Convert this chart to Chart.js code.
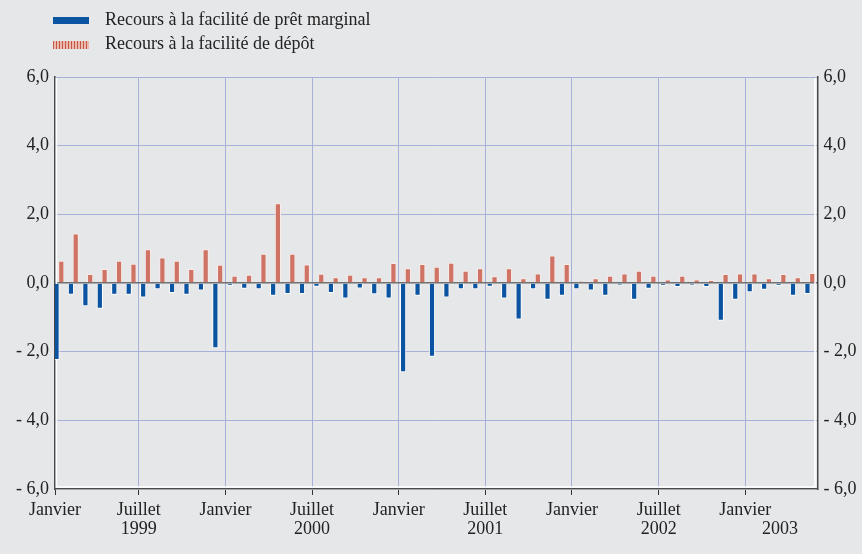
<!DOCTYPE html>
<html>
<head>
<meta charset="utf-8">
<script src="https://cdn.jsdelivr.net/npm/chart.js@4.4.1/dist/chart.umd.min.js"></script>
<style>
  body { margin: 0; background: #e6e7e9; }
  #cadre { position: relative; width: 862px; height: 554px; }
  .legende { position: absolute; left: 53px; font-family: "Liberation Serif", serif; font-size: 18px; color: #222; line-height: 20px; }
  .legende span { display: inline-block; width: 36px; vertical-align: middle; margin-right: 16px; }
</style>
</head>
<body>
<div id="cadre">
  <canvas id="graphe"></canvas>
  <div class="legende" style="top:9px"><span style="height:7px;background:#0b54a1"></span>Recours à la facilité de prêt marginal</div>
  <div class="legende" style="top:33px"><span style="height:8px;background:repeating-linear-gradient(90deg,#c4594a 0 1.5px,#ebb9ac 1.5px 3px)"></span>Recours à la facilité de dépôt</div>
</div>
<script>
// periodes mensuelles, janvier 1999 -> mai 2003 (milliards d'euros, moyennes)
const depot = [0.65, 1.44, 0.26, 0.41, 0.65, 0.56, 0.98, 0.74, 0.65, 0.41, 0.98, 0.53,
  0.21, 0.24, 0.85, 2.32, 0.85, 0.54, 0.27, 0.17, 0.24, 0.17, 0.17, 0.58,
  0.43, 0.55, 0.47, 0.59, 0.36, 0.43, 0.20, 0.43, 0.14, 0.28, 0.80, 0.55,
  0.05, 0.14, 0.21, 0.28, 0.36, 0.21, 0.10, 0.21, 0.10, 0.09, 0.26, 0.28,
  0.28, 0.14, 0.26, 0.17, 0.29];
const pretMarginal = [-2.24, -0.34, -0.68, -0.75, -0.34, -0.34, -0.42, -0.18, -0.29, -0.34, -0.22, -1.90,
  -0.08, -0.17, -0.18, -0.37, -0.32, -0.32, -0.11, -0.29, -0.45, -0.16, -0.33, -0.45,
  -2.60, -0.37, -2.15, -0.42, -0.18, -0.18, -0.11, -0.45, -1.06, -0.18, -0.49, -0.37,
  -0.18, -0.22, -0.37, -0.07, -0.49, -0.17, -0.08, -0.12, -0.07, -0.12, -1.10, -0.49,
  -0.27, -0.20, -0.08, -0.37, -0.32];

// graduations de l'axe des temps (en mois depuis janvier 1999)
const graduations = [0.2, 6, 12, 18, 24, 30, 36, 42, 48, 50.4];
const etiquettesMois = ['Janvier', 'Juillet', 'Janvier', 'Juillet', 'Janvier', 'Juillet', 'Janvier', 'Juillet', 'Janvier', ''];
const etiquettesAnnees = ['', '1999', '', '2000', '', '2001', '', '2002', '', '2003'];
const graduationsY = [-6, -4, -2, 0, 2, 4, 6];

const decalage = 0.47; // position de la periode dans le mois
const police = { family: 'Liberation Serif', size: 18, lineHeight: 1.05 };
const bleuGrille = '#a7b0d8';

function formatY(v) {
  const t = Math.abs(v).toFixed(1).replace('.', ',');
  return v < 0 ? '- ' + t : t;
}

const cadreBlanc = {
  id: 'cadreBlanc',
  beforeDatasetsDraw(chart) {
    const { ctx, chartArea: a } = chart;
    ctx.save();
    ctx.strokeStyle = '#ffffff';
    ctx.lineWidth = 1.5;
    ctx.beginPath();
    ctx.moveTo(a.left + 1.5, a.top + 1);
    ctx.lineTo(a.left + 1.5, a.bottom - 2);
    ctx.lineTo(a.right - 2.5, a.bottom - 2);
    ctx.lineTo(a.right - 2.5, a.top + 1);
    ctx.stroke();
    ctx.restore();
  }
};

const ctx = document.getElementById('graphe');
new Chart(ctx, {
  type: 'bar',
  data: {
    datasets: [{
      label: 'Recours à la facilité de prêt marginal',
      data: pretMarginal.map((v, i) => ({ x: i + decalage, y: v })),
      backgroundColor: '#0b54a1',
      borderColor: '#ffffff',
      borderWidth: 1
    },
    {
      label: 'Recours à la facilité de dépôt',
      data: depot.map((v, i) => ({ x: i + decalage, y: v })),
      backgroundColor: '#cf7464',
      borderColor: '#fbeae6',
      borderWidth: 1
    }]
  },
  options: {
    responsive: true,
    maintainAspectRatio: false,
    animation: false,
    categoryPercentage: 0.66,
    barPercentage: 1.3,
    layout: { padding: { top: 77, left: 0, right: 0, bottom: 0 } },
    plugins: {
      legend: { display: false },
      tooltip: { enabled: false }
    },
    scales: {
      x: {
        type: 'linear',
        offset: false,
        min: 0.2,
        max: 53,
        afterBuildTicks: s => { s.ticks = graduations.map(v => ({ value: v })); },
        afterFit: s => { s.height = 65; },
        ticks: {
          autoSkip: false,
          maxRotation: 0,
          padding: 6,
          color: '#222',
          font: police,
          callback: (v, i) => etiquettesAnnees[i] ? [etiquettesMois[i], etiquettesAnnees[i]] : etiquettesMois[i]
        },
        grid: {
          offset: false,
          color: c => (c.tick && (c.tick.value < 1 || c.tick.value > 50)) ? 'rgba(0,0,0,0)' : bleuGrille,
          tickColor: c => (c.tick && c.tick.value > 50) ? 'rgba(0,0,0,0)' : '#333',
          tickLength: 6,
          lineWidth: 1
        },
        border: { color: '#4a4a4a', width: 1.5 }
      },
      y: {
        position: 'left',
        min: -6,
        max: 6,
        afterBuildTicks: s => { s.ticks = graduationsY.map(v => ({ value: v })); },
        afterFit: s => { s.width = 55; },
        ticks: { padding: 6, color: '#222', font: police, callback: v => formatY(v) },
        grid: {
          drawTicks: false,
          color: c => c.tick.value === 0 ? '#707070' : (c.tick.value === -6 ? '#ffffff' : bleuGrille),
          lineWidth: c => c.tick.value === 0 ? 1.5 : 1
        },
        border: { color: '#4a4a4a', width: 1.5 }
      },
      y2: {
        position: 'right',
        min: -6,
        max: 6,
        afterBuildTicks: s => { s.ticks = graduationsY.map(v => ({ value: v })); },
        afterFit: s => { s.width = 44.5; },
        ticks: { padding: 6, color: '#222', font: police, callback: v => formatY(v) },
        grid: { drawTicks: false, drawOnChartArea: false },
        border: { color: '#4a4a4a', width: 1.5 }
      }
    }
  },
  plugins: [cadreBlanc]
});
</script>
</body>
</html>
